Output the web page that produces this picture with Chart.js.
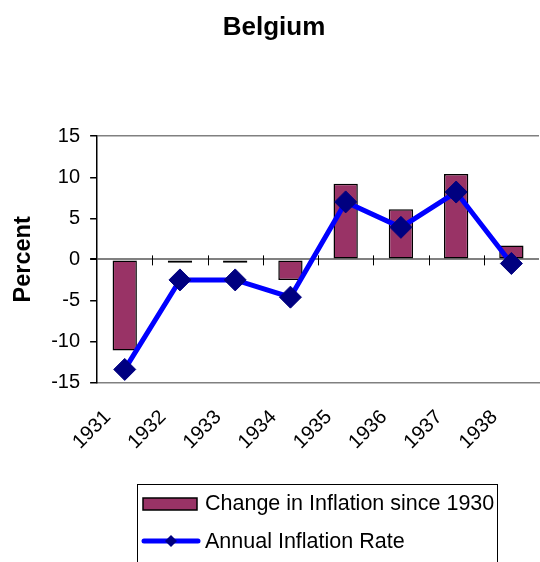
<!DOCTYPE html>
<html>
<head>
<meta charset="utf-8">
<title>Belgium</title>
<script src="https://cdn.jsdelivr.net/npm/chart.js@4/dist/chart.umd.min.js"></script>
<style>
  html, body { margin:0; padding:0; background:#fff; }
  #wrap { width:540px; height:562px; }
</style>
</head>
<body>
<div id="wrap"><canvas id="myChart" width="540" height="562"></canvas></div>
<script>
const years = ['1931','1932','1933','1934','1935','1936','1937','1938']
const changeSince1930 = [-11.1, -0.4, -0.4, -2.5, 9.2, 6.1, 10.4, 1.7]
const annualRate = [-13.4, -2.5, -2.5, -4.6, 7.0, 3.9, 8.2, -0.5]
const yTicks = [-15, -10, -5, 0, 5, 10, 15]

const fontFamily = "'Liberation Sans', Arial, sans-serif"

// zero line tick marks between categories (excel style)
const zeroTicks = {
    id:'zeroTicks',
    beforeDatasetsDraw(chart){
        const ctx = chart.ctx
        const x = chart.scales.x
        const y = chart.scales.y
        const y0 = y.getPixelForValue(0)
        ctx.save()
        ctx.strokeStyle = '#000'
        ctx.lineWidth = 1
        for(let i = 0; i < years.length - 1; i++){
            const bx = Math.round((x.getPixelForValue(i) + x.getPixelForValue(i + 1)) / 2) + 0.5
            ctx.beginPath()
            ctx.moveTo(bx, y0 - 4)
            ctx.lineTo(bx, y0 + 6)
            ctx.stroke()
        }
        ctx.restore()
    }
}

// boxed legend at the bottom, items stacked
const boxLegend = {
    id:'boxLegend',
    afterDraw(chart){
        const ctx = chart.ctx
        const bar = chart.data.datasets[1]
        const line = chart.data.datasets[0]
        ctx.save()
        ctx.strokeStyle = '#000'
        ctx.lineWidth = 1
        ctx.strokeRect(137.5, 484.5, 360, 90)

        ctx.fillStyle = bar.backgroundColor
        ctx.fillRect(143, 498, 54, 12)
        ctx.lineWidth = 1.5
        ctx.strokeRect(143, 498, 54, 12)

        ctx.strokeStyle = line.borderColor
        ctx.lineWidth = 5
        ctx.lineCap = 'round'
        ctx.beginPath()
        ctx.moveTo(144, 541)
        ctx.lineTo(198, 541)
        ctx.stroke()
        ctx.fillStyle = line.pointBackgroundColor
        ctx.beginPath()
        ctx.moveTo(171 - 6, 541)
        ctx.lineTo(171, 535)
        ctx.lineTo(171 + 6, 541)
        ctx.lineTo(171, 547)
        ctx.closePath()
        ctx.fill()

        ctx.fillStyle = '#000'
        ctx.font = '21.5px ' + fontFamily
        ctx.textBaseline = 'middle'
        ctx.textAlign = 'left'
        ctx.fillText(bar.label, 205, 504)
        ctx.fillText(line.label, 205, 542)
        ctx.restore()
    }
}

const myChart = new Chart(document.querySelector('#myChart'), {
    type:'bar',
    data:{
        labels:years,
        datasets:[{
            type:'line',
            label:'Annual Inflation Rate',
            data:annualRate,
            borderColor:'#0000ff',
            borderWidth:5,
            pointStyle:'rectRot',
            pointRadius:11,
            pointHoverRadius:11,
            pointBackgroundColor:'#000080',
            pointBorderColor:'#000080',
            pointBorderWidth:1,
            tension:0,
            order:1
        },{
            type:'bar',
            label:'Change in Inflation since 1930',
            data:changeSince1930,
            backgroundColor:'#993366',
            borderColor:'#000',
            borderWidth:1.5,
            borderSkipped:false,
            barPercentage:0.44,
            categoryPercentage:1,
            order:2
        }]
    },
    options:{
        responsive:false,
        animation:false,
        layout:{ autoPadding:false, padding:{ left:9, right:1, top:0, bottom:93 } },
        plugins:{
            legend:{ display:false },
            tooltip:{ enabled:false },
            title:{
                display:true,
                text:'Belgium',
                color:'#000',
                font:{ family:fontFamily, size:26, weight:'bold' },
                padding:{ top:12, bottom:93 }
            }
        },
        scales:{
            x:{
                grid:{ display:false },
                border:{ color:'#808080', width:1.5 },
                afterFit:(scale) => { scale.paddingLeft = 0; scale.paddingRight = 0 },
                ticks:{
                    color:'#000',
                    font:{ family:fontFamily, size:20 },
                    maxRotation:45,
                    minRotation:45,
                    padding:15,
                    labelOffset:-17,
                    autoSkip:false
                }
            },
            y:{
                min:-15,
                max:15,
                afterBuildTicks:(scale) => { scale.ticks = yTicks.map(v => ({ value:v })) },
                border:{ color:'#000', width:1.5 },
                grid:{
                    drawOnChartArea:true,
                    drawTicks:true,
                    tickLength:7,
                    tickColor:'#000',
                    color:(c) => (c.tick && (c.tick.value === 0 || c.tick.value === 15)) ? '#808080' : 'rgba(0,0,0,0)',
                    lineWidth:(c) => (c.tick && c.tick.value === 0) ? 2 : 1.5
                },
                ticks:{
                    color:'#000',
                    font:{ family:fontFamily, size:20 },
                    padding:10
                },
                title:{
                    display:true,
                    text:'Percent',
                    color:'#000',
                    font:{ family:fontFamily, size:23.5, weight:'bold' },
                    padding:{ top:0, bottom:4 }
                }
            }
        }
    },
    plugins:[zeroTicks, boxLegend]
})
</script>
</body>
</html>
